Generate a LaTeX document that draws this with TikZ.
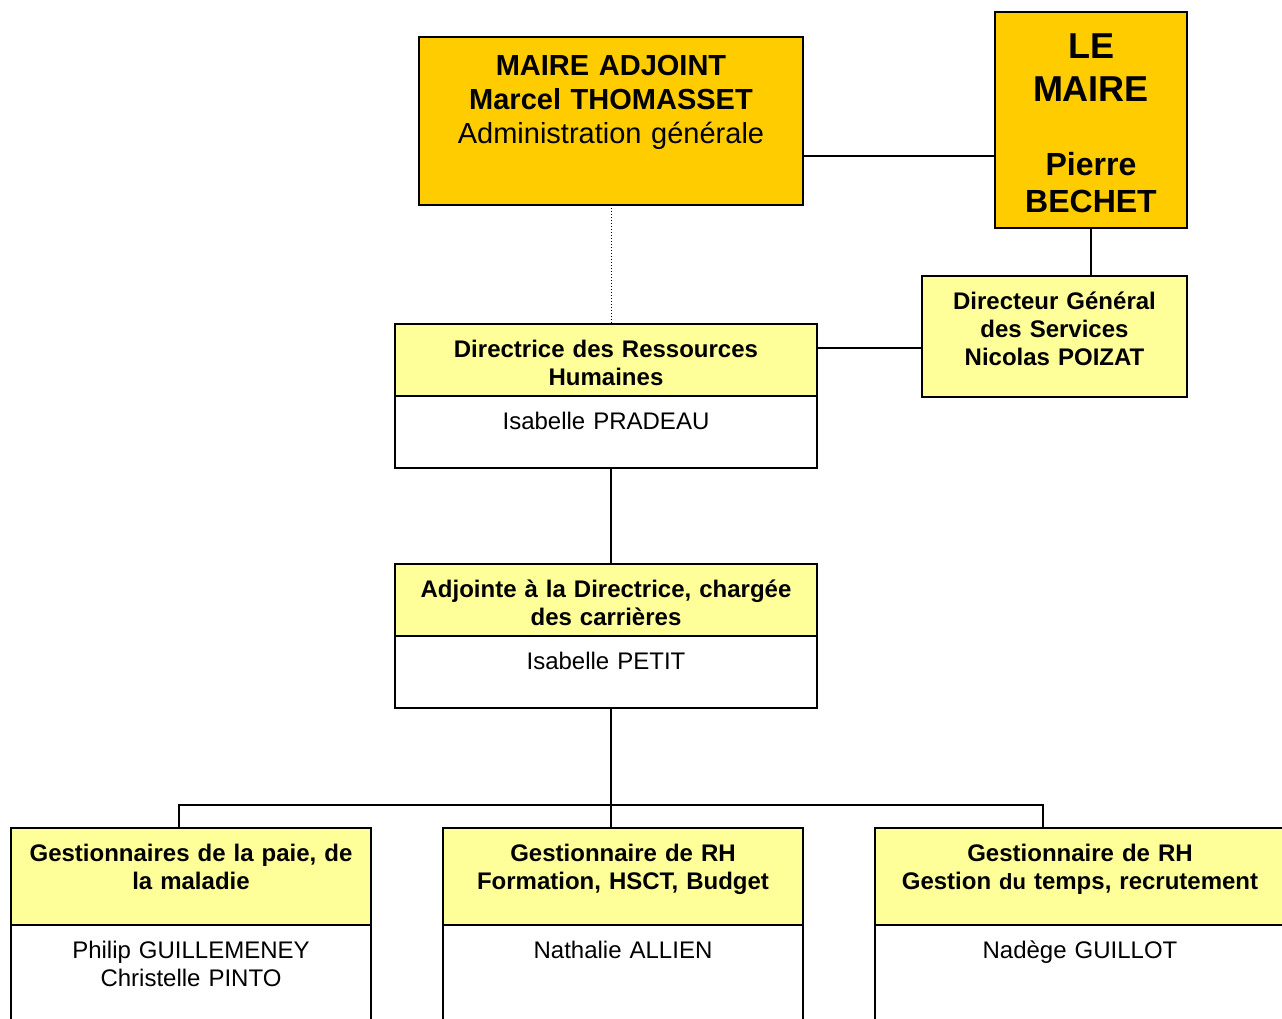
\documentclass[tikz,border=0pt]{standalone}
\usepackage{fontspec}
\setmainfont{Liberation Sans}
\usetikzlibrary{positioning}
\definecolor{orangemaire}{HTML}{FFCC00}
\definecolor{jaunepale}{HTML}{FFFF99}

\begin{document}
\begin{tikzpicture}[
            x=0.5pt, y=-0.5pt,
            boite/.style={draw, line width=1pt, inner sep=0pt, outer sep=0pt, align=center},
            elu/.style={boite, fill=orangemaire, anchor=north west},
            titre/.style 2 args={boite, fill=jaunepale, font=\bfseries\fontsize{12}{14}\selectfont,
                text width=#1, text height=16.5pt, text depth=#2},
            nom/.style 2 args={boite, fill=white, font=\fontsize{12}{14}\selectfont,
                text width=#1, text height=16.5pt, text depth=#2},
            lien/.style={line width=1pt},
        ]
            \useasboundingbox (0,0) rectangle (1282,1019);
            \clip (0,0) rectangle (1282,1019);

            % --- Les élus ---
            \node[elu, text width=192pt, font=\bfseries\fontsize{14.5}{17}\selectfont,
                text height=19pt, text depth=65pt] (adjoint) at (419,37)
                {MAIRE ADJOINT\\Marcel THOMASSET\\\mdseries Administration générale};
            \node[elu, text width=96pt, font=\bfseries\fontsize{18}{20}\selectfont,
                text height=23pt, text depth=85pt] (maire) at (995,12)
                {LE\\[1.5pt]MAIRE\\[17.25pt]\fontsize{16}{20}\selectfont Pierre\\[-1.5pt]BECHET};

            % --- Direction ---
            \node[titre={132.5pt}{43.75pt}, anchor=north west] (dgs) at (922,276)
                {Directeur Général\\des Services\\Nicolas POIZAT};
            \node[titre={211pt}{19.5pt}, anchor=north west] (drh) at (395,324)
                {Directrice des Ressources\\Humaines};
            \node[nom={211pt}{19.5pt}, below=0pt of drh] (drhnom) {Isabelle PRADEAU};
            \node[titre={211pt}{19.5pt}, below=48pt of drhnom] (adjointe)
                {Adjointe à la Directrice, chargée\\des carrières};
            \node[nom={211pt}{19.5pt}, below=0pt of adjointe] (adjointenom) {Isabelle PETIT};

            % --- Gestionnaires ---
            \node[titre={180pt}{32pt}, anchor=north west] (g1) at (11,828)
                {Gestionnaires de la paie, de\\la maladie};
            \node[titre={180pt}{32pt}, right=36pt of g1] (g2)
                {Gestionnaire de RH\\Formation, HSCT, Budget};
            \node[titre={205pt}{32pt}, right=36pt of g2] (g3)
                {Gestionnaire de RH\\Gestion {\fontsize{11}{14}\selectfont du} temps, recrutement};
            \node[nom={180pt}{43.5pt}, below=0pt of g1] (g1nom) {Philip GUILLEMENEY\\Christelle PINTO};
            \node[nom={180pt}{43.5pt}, below=0pt of g2] (g2nom) {Nathalie ALLIEN};
            \node[nom={205pt}{43.5pt}, below=0pt of g3] (g3nom) {Nadège GUILLOT};

            % --- Liaisons ---
            \draw[lien] ([yshift=24.5pt]adjoint.south east) -- ([yshift=24.5pt]adjoint.south east -| maire.west);
            \draw[lien] (maire.south) -- (maire.south |- dgs.north);
            \draw[lien] ([yshift=-6pt]dgs.west) -- ([yshift=-6pt]dgs.west -| drh.east);
            \draw[densely dotted, line width=0.5pt] (adjoint.south) -- (adjoint.south |- drh.north);
            \draw[lien] (adjoint.south |- drhnom.south) -- (adjoint.south |- adjointe.north);
            \coordinate (bus) at ([yshift=-48.5pt]adjointenom.south -| adjoint.south);
            \draw[lien] (bus |- adjointenom.south) -- (bus |- g2.north);
            \draw[lien] ([xshift=-6pt]g1.north) |- (bus) -| ([xshift=-18.5pt]g3.north);
        \end{tikzpicture}
\end{document}
